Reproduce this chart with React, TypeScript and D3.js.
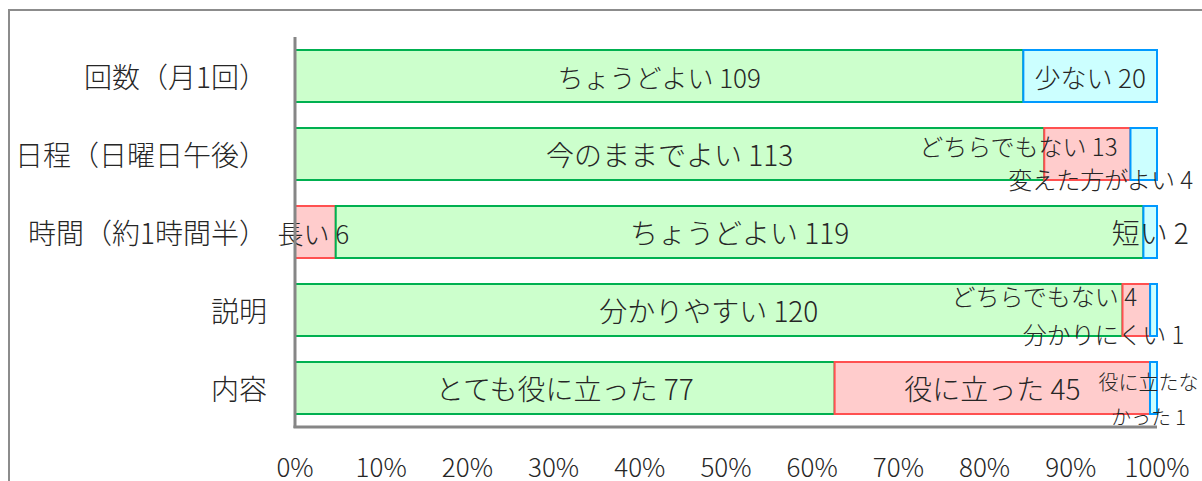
import React from "react";
import * as d3 from "d3";

const categories = ["回数（月1回）", "日程（日曜日午後）", "時間（約1時間半）", "説明", "内容"];
const segLabels = [
  ["ちょうどよい", "少ない"],
  ["今のままでよい", "どちらでもない", "変えた方がよい"],
  ["長い", "ちょうどよい", "短い"],
  ["分かりやすい", "どちらでもない", "分かりにくい"],
  ["とても役に立った", "役に立った", "役に立たなかった"],
];
const segValues = [
  [109, 20],
  [113, 13, 4],
  [6, 119, 2],
  [120, 4, 1],
  [77, 45, 1],
];
const segKinds = [
  ["good", "few"],
  ["good", "neutral", "change"],
  ["long", "good", "short"],
  ["good", "neutral", "hard"],
  ["good", "ok", "bad"],
];
const xTicks = [0, 0.1, 0.2, 0.3, 0.4, 0.5, 0.6, 0.7, 0.8, 0.9, 1];

// styling
const kindStyle: Record<string, { fill: string; stroke: string }> = {
  good: { fill: "#CCFFCC", stroke: "#00B050" },
  neutral: { fill: "#FFCCCC", stroke: "#FF5050" },
  long: { fill: "#FFCCCC", stroke: "#FF5050" },
  ok: { fill: "#FFCCCC", stroke: "#FF5050" },
  few: { fill: "#CCFFFF", stroke: "#0099FF" },
  change: { fill: "#CCFFFF", stroke: "#0099FF" },
  short: { fill: "#CCFFFF", stroke: "#0099FF" },
  hard: { fill: "#CCFFFF", stroke: "#0099FF" },
  bad: { fill: "#CCFFFF", stroke: "#0099FF" },
};
const labelSizes = [
  [26, 26],
  [28, 24, 24],
  [26, 28, 28],
  [28, 24, 24],
  [28, 28, 20],
];
// label offsets (dx, dy) from segment centre, plus optional line wrapping
const labelPlacement: Record<string, { dx: number; dy: number; lines?: string[]; dys?: number[] }> = {
  "1-1": { dx: -69, dy: -9 },
  "1-2": { dx: -43, dy: 24 },
  "2-0": { dx: -2, dy: 0 },
  "3-1": { dx: -92, dy: -15 },
  "3-2": { dx: -50, dy: 23 },
  "4-2": { dx: -5, dy: 0, lines: ["役に立たな", "かった 1"], dys: [-7, 28] },
};

const W = 1202;
const H = 481;
const FONT = "'Noto Sans CJK JP', 'Noto Sans', sans-serif";
const TEXT = "#262626";
const AXIS = "#868686";

export default function App() {
  const x = d3.scaleLinear().domain([0, 1]).range([295, 1157]);
  const y = d3.scaleBand<string>().domain(categories).range([37, 427]).paddingInner(1 / 3).paddingOuter(1 / 6);
  const fmt = d3.format(".0%");

  return (
    <svg width={W} height={H} style={{ position: "absolute", left: 0, top: 0, background: "#fff" }} fontFamily={FONT} fontWeight={300}>
      <rect x={9} y={10} width={W + 20} height={H + 20} fill="#fff" stroke="#8c8c8c" strokeWidth={2} />
      {categories.map((cat, i) => {
        const vals = segValues[i];
        const total = d3.sum(vals);
        const stack = d3.cumsum(vals);
        const y0 = y(cat)!;
        const bh = y.bandwidth();
        return (
          <g key={cat}>
            <text x={267} y={y0 + bh / 2} textAnchor="end" dominantBaseline="central" fontSize={28} fill={TEXT}>
              {cat}
            </text>
            {vals.map((v, j) => {
              const a = x((stack[j] - v) / total);
              const b = x(stack[j] / total);
              const st = kindStyle[segKinds[i][j]];
              return (
                <rect key={j} x={a} y={y0} width={b - a} height={bh} fill={st.fill} stroke={st.stroke} strokeWidth={2} />
              );
            })}
          </g>
        );
      })}
      {categories.map((cat, i) => {
        const vals = segValues[i];
        const total = d3.sum(vals);
        const stack = d3.cumsum(vals);
        const y0 = y(cat)!;
        const bh = y.bandwidth();
        return (
          <g key={"l" + cat}>
            {vals.map((v, j) => {
              const a = x((stack[j] - v) / total);
              const b = x(stack[j] / total);
              const cx = (a + b) / 2;
              const cy = y0 + bh / 2;
              const p = labelPlacement[`${i}-${j}`];
              const fs = labelSizes[i][j];
              const txt = `${segLabels[i][j]} ${v}`;
              if (p && p.lines) {
                return (
                  <g key={j}>
                    {p.lines.map((ln, k) => (
                      <text key={k} x={cx + p.dx} y={cy + p.dys![k]} textAnchor="middle" dominantBaseline="central" fontSize={fs} fill={TEXT}>
                        {ln}
                      </text>
                    ))}
                  </g>
                );
              }
              return (
                <text key={j} x={cx + (p ? p.dx : 0)} y={cy + (p ? p.dy : 0)} textAnchor="middle" dominantBaseline="central" fontSize={fs} fill={TEXT}>
                  {txt}
                </text>
              );
            })}
          </g>
        );
      })}
      <line x1={295} x2={295} y1={37} y2={428} stroke={AXIS} strokeWidth={3} />
      <line x1={293.5} x2={1157} y1={427} y2={427} stroke={AXIS} strokeWidth={3} />
      {xTicks.map((t) => (
        <text key={t} x={x(t)} y={465} textAnchor="middle" dominantBaseline="central" fontSize={26} fill={TEXT}>
          {fmt(t)}
        </text>
      ))}
    </svg>
  );
}
